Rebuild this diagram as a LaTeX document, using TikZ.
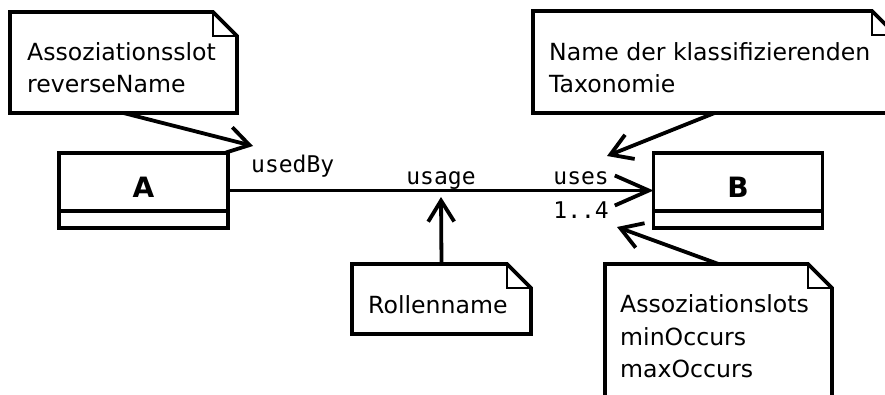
\documentclass[tikz,border=0pt]{standalone}
\usepackage{fontspec}
\setmainfont{DejaVu Sans}
\setmonofont{DejaVu Sans Mono}
\usetikzlibrary{arrows.meta}

% UML note outline with a folded corner, drawn round an empty node
\newcommand\umlnote[1]{%
  \draw[line width=3.8pt, line join=miter]
    (#1.south west) -- (#1.north west) -- ([xshift=-24pt]#1.north east)
    -- ([yshift=-24pt]#1.north east) -- (#1.south east) -- cycle;
  \draw[line width=1.6pt]
    ([xshift=-24pt]#1.north east) -- ([xshift=-24pt,yshift=-24pt]#1.north east)
    -- ([yshift=-24pt]#1.north east);}

\tikzset{
  stroke/.style={line width=3.8pt},
  umlclass/.style={draw, line width=3.8pt, minimum width=169pt, minimum height=75pt,
    inner sep=0pt, outer sep=0pt},
  notebox/.style={inner sep=0pt, outer sep=0pt},
  classname/.style={inner sep=0pt, font=\bfseries\fontsize{28}{32}\selectfont},
  notetext/.style={anchor=base west, inner sep=0pt, font=\fontsize{23.6}{28}\selectfont},
  rolelabel/.style={inner sep=0pt, font=\ttfamily\fontsize{23}{28}\selectfont},
  pointer/.style={stroke, -{Straight Barb[length=21pt,width=26pt,line cap=butt]}},
  navarrow/.style={stroke, -{Straight Barb[length=34pt,width=30pt,line cap=butt]}},
}

\begin{document}
\begin{tikzpicture}[x=1pt, y=-1pt]
  \useasboundingbox (0,0) rectangle (885,394);
  \clip (0,0) rectangle (885,394);

  % classes
  \node[umlclass] (A) at (143.5,190.5) {};
  \node[umlclass] (B) at (738,190.5) {};
  \draw[stroke] ([yshift=17pt]A.south west) -- ([yshift=17pt]A.south east);
  \draw[stroke] ([yshift=17pt]B.south west) -- ([yshift=17pt]B.south east);
  \node[classname] (Aname) at (143.5,187) {A};
  \node[classname] (Bname) at (738,187) {B};

  % association and its end labels
  \draw[navarrow] (A.east) -- (B.west);
  \node[rolelabel, anchor=base west] (usedby) at (251,172) {usedBy};
  \node[rolelabel, anchor=base] (usage) at (441,184) {usage};
  \node[rolelabel, anchor=base east] (uses) at (609,184) {uses};
  \node[rolelabel, anchor=base east] (mult) at (609,218) {1..4};

  % notes
  \node[notebox, minimum width=227pt, minimum height=101pt] (n1) at (123.5,62.5) {};
  \umlnote{n1}
  \node[notetext] (n1a) at (27,60) {Assoziationsslot};
  \node[notetext] (n1b) at (27,92) {reverseName};

  \node[notebox, minimum width=363pt, minimum height=102pt] (n2) at (714.5,62) {};
  \umlnote{n2}
  \node[notetext] (n2a) at (549,60) {Name der klassifizierenden};
  \node[notetext] (n2b) at (549,92) {Taxonomie};

  \node[notebox, minimum width=179pt, minimum height=70pt] (n3) at (441.5,299) {};
  \umlnote{n3}
  \node[notetext] (n3a) at (368,313) {Rollenname};

  \node[notebox, minimum width=227pt, minimum height=156pt] (n4) at (718.5,342) {};
  \umlnote{n4}
  \node[notetext] (n4a) at (620,312) {Assoziationslots};
  \node[notetext] (n4b) at (620,345) {minOccurs};
  \node[notetext] (n4c) at (620,377) {maxOccurs};

  % pointers from the notes
  \coordinate (tUsedBy) at (253,146);
  \coordinate (tUses) at (607,156);
  \coordinate (tUsage) at (441,197);
  \coordinate (tMult) at (617,227);
  \draw[pointer] (n1.south) -- (tUsedBy);
  \draw[pointer] (n2.south) -- (tUses);
  \draw[pointer] (n3.north) -- (tUsage);
  \draw[pointer] (n4.north) -- (tMult);
\end{tikzpicture}
\end{document}
